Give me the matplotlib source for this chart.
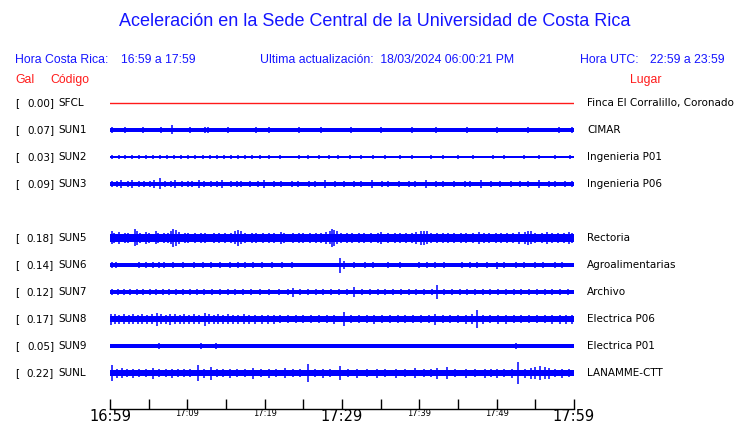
import matplotlib
matplotlib.use("Agg")
import matplotlib.pyplot as plt

# ---------------- data ----------------
gal = [0.00, 0.07, 0.03, 0.09, None, 0.18, 0.14, 0.12, 0.17, 0.05, 0.22]
codes = ["SFCL", "SUN1", "SUN2", "SUN3", None, "SUN5", "SUN6", "SUN7", "SUN8", "SUN9", "SUNL"]
places = ["Finca El Corralillo, Coronado", "CIMAR", "Ingenieria P01", "Ingenieria P06", None,
          "Rectoria", "Agroalimentarias", "Archivo", "Electrica P06", "Electrica P01", "LANAMME-CTT"]
# base band half-width (px)
base = [0.5, 1.6, 0.6, 2.4, None, 4.0, 2.1, 2.1, 3.4, 1.6, 2.6]
# bursts / spikes: (minute after 16:59, half amplitude px)
spikes = [
    [],
    # SUN1
    [(0.3, 2.6), (1.1, 2.2), (1.9, 2.8), (2.8, 2.4), (3.5, 2.2), (4.3, 2.8), (5.0, 2.4), (5.9, 2.2),
     (6.6, 2.6), (7.4, 2.2), (8.0, 4.5), (8.7, 2.4), (9.5, 2.2), (10.4, 2.6), (11.2, 2.2), (12.3, 3.2),
     (12.7, 3.2), (13.5, 2.4), (14.4, 2.2), (15.3, 2.6), (16.1, 2.2), (17.0, 2.4), (18.0, 2.2),
     (18.9, 2.6), (19.7, 2.2), (20.6, 2.8), (21.5, 2.2), (22.6, 2.4), (23.4, 2.2), (24.5, 2.6),
     (25.4, 2.2), (26.3, 2.4), (27.3, 2.8), (28.2, 2.2), (29.2, 2.4), (30.3, 2.2), (31.1, 2.6),
     (32.2, 2.2), (33.1, 2.4), (34.2, 2.2), (35.0, 2.8), (36.1, 2.2), (37.0, 2.4), (38.1, 2.2),
     (39.0, 2.6), (40.1, 2.2), (41.0, 2.4), (42.1, 2.8), (43.0, 2.2), (44.1, 2.4), (45.0, 2.2),
     (46.1, 2.6), (47.0, 2.2), (48.1, 2.4), (49.0, 2.2), (50.1, 2.6), (51.0, 2.2), (52.1, 2.4),
     (53.0, 2.2), (54.1, 2.8), (55.0, 2.2), (56.1, 2.4), (57.0, 2.2), (58.1, 2.6), (59.0, 2.2),
     (59.8, 2.6)],
    # SUN2
    [(0.3, 1.8), (1.2, 1.6), (2.0, 1.8), (2.9, 1.6), (3.8, 1.8), (4.7, 1.6), (5.6, 1.8), (6.5, 1.6),
     (7.4, 1.8), (8.3, 1.6), (9.2, 1.8), (10.1, 1.6), (11.0, 1.8), (12.0, 2.0), (12.9, 1.6),
     (13.8, 1.8), (14.7, 1.6), (15.6, 1.8), (16.6, 1.6), (17.5, 1.8), (18.4, 1.6), (19.4, 1.8),
     (20.5, 1.6), (22.0, 1.8), (24.5, 1.6), (25.6, 1.8), (27.0, 1.6), (28.3, 1.8), (29.5, 1.6),
     (31.0, 1.8), (32.5, 1.6), (34.0, 1.8), (35.5, 1.6), (37.5, 1.8), (39.0, 1.6), (41.5, 1.8),
     (43.0, 1.6), (45.0, 1.8), (47.0, 1.6), (49.5, 1.8), (51.0, 1.6), (53.5, 1.8), (55.5, 1.6),
     (57.5, 1.8), (59.5, 1.6)],
    # SUN3
    [(0.3, 3.4), (0.9, 3.0), (1.4, 3.6), (2.3, 3.2), (2.8, 3.6), (3.7, 3.0), (4.4, 3.4), (5.2, 3.2),
     (5.7, 3.6), (6.5, 5.5), (7.1, 3.4), (7.9, 3.0), (8.4, 3.6), (9.3, 3.2), (10.1, 3.4), (10.6, 3.0),
     (11.5, 3.6), (12.2, 3.2), (13.1, 3.4), (13.9, 3.0), (14.5, 3.6), (15.6, 3.2), (16.4, 3.4),
     (17.0, 3.0), (18.1, 3.4), (19.2, 3.0), (19.9, 3.6), (21.2, 3.2), (22.1, 3.4), (23.5, 3.0),
     (24.3, 3.4), (25.7, 3.2), (26.5, 3.0), (27.8, 3.6), (29.1, 3.2), (30.3, 3.0), (31.6, 3.4),
     (32.4, 3.0), (33.9, 3.6), (35.2, 3.2), (36.0, 3.0), (37.4, 3.4), (38.7, 3.2), (39.5, 3.0),
     (40.9, 3.6), (42.2, 3.2), (43.0, 3.0), (44.5, 3.4), (45.9, 3.2), (46.6, 3.0), (48.0, 3.6),
     (49.3, 3.2), (50.4, 3.0), (51.8, 3.4), (53.0, 3.2), (54.1, 3.0), (55.5, 3.6), (56.8, 3.2),
     (57.6, 3.0), (58.9, 3.4), (59.7, 3.2)],
    [],
    # SUN5
    [(0.2, 6.5), (0.5, 5.0), (1.1, 6.0), (1.9, 5.5), (2.3, 4.8), (3.2, 8.5), (3.5, 7.0), (3.9, 5.5),
     (4.7, 6.0), (5.1, 4.8), (5.9, 6.5), (6.2, 5.0), (7.0, 5.5), (7.5, 4.8), (7.9, 6.5), (8.2, 9.0),
     (8.5, 8.0), (8.9, 6.0), (9.7, 5.5), (10.1, 4.8), (11.0, 5.5), (11.8, 5.0), (12.3, 4.8),
     (13.4, 5.5), (14.1, 4.8), (14.9, 5.2), (15.7, 5.0), (16.2, 6.5), (16.6, 8.0), (17.0, 6.5),
     (17.4, 5.5), (18.3, 5.0), (18.9, 5.5), (19.8, 4.8), (20.5, 5.5), (21.2, 5.0), (22.1, 5.8),
     (22.5, 4.8), (23.6, 5.2), (24.4, 5.0), (25.0, 5.5), (25.9, 4.8), (26.6, 5.5), (27.3, 5.0),
     (27.9, 6.0), (28.4, 6.5), (28.7, 9.0), (29.0, 8.0), (29.4, 6.5), (29.9, 5.0), (30.7, 5.5),
     (31.3, 4.8), (32.2, 5.5), (32.9, 5.0), (33.8, 5.2), (34.6, 5.0), (35.1, 5.8), (36.0, 4.8),
     (36.9, 5.5), (37.5, 5.0), (38.3, 5.2), (39.0, 5.5), (39.6, 6.0), (40.2, 7.0), (40.6, 7.5),
     (41.0, 6.5), (41.5, 5.5), (42.3, 5.0), (43.1, 5.5), (43.7, 4.8), (44.5, 5.2), (45.4, 5.0),
     (46.0, 5.5), (46.9, 5.0), (47.7, 5.8), (48.3, 4.8), (49.0, 5.5), (49.9, 5.0), (50.6, 5.2),
     (51.4, 5.0), (52.1, 5.5), (52.9, 5.8), (53.6, 6.0), (54.0, 7.0), (54.4, 6.5), (55.0, 5.5),
     (55.8, 5.0), (56.5, 5.8), (57.2, 5.0), (57.9, 5.5), (58.7, 5.2), (59.3, 5.8), (59.8, 5.0)],
    # SUN6
    [(0.2, 3.0), (0.8, 3.0), (3.8, 3.0), (4.6, 3.2), (5.5, 3.0), (6.3, 3.0), (7.0, 3.2), (8.2, 3.0),
     (9.5, 3.0), (10.8, 3.0), (12.0, 3.0), (13.0, 3.2), (14.2, 3.0), (15.5, 3.0), (16.6, 3.0),
     (17.5, 3.0), (18.5, 3.2), (19.6, 3.0), (21.0, 3.0), (22.2, 3.0), (23.5, 3.0), (29.8, 7.5),
     (30.2, 4.0), (31.5, 3.0), (33.0, 3.0), (34.0, 3.0), (36.0, 3.0), (37.5, 3.2), (40.0, 3.0),
     (41.0, 3.0), (42.0, 3.0), (43.2, 3.0), (45.5, 3.2), (46.5, 3.0), (47.5, 3.0), (48.8, 3.0),
     (50.0, 3.5), (51.0, 3.0), (52.5, 3.0), (53.5, 3.0), (55.0, 3.2), (56.0, 3.0), (57.5, 3.0),
     (58.5, 3.0)],
    # SUN7
    [(0.2, 3.0), (1.0, 3.2), (1.8, 3.0), (2.6, 3.4), (3.5, 3.0), (4.3, 3.2), (5.2, 3.0), (6.0, 3.4),
     (6.8, 3.0), (7.6, 3.2), (8.5, 3.4), (9.4, 3.0), (10.3, 3.2), (11.2, 3.0), (12.2, 3.2),
     (13.2, 3.0), (14.2, 3.4), (15.2, 3.0), (16.2, 3.2), (17.2, 3.0), (18.2, 3.2), (19.4, 3.0),
     (20.6, 3.2), (21.8, 3.4), (23.0, 3.4), (23.7, 4.5), (24.6, 3.2), (25.6, 3.0), (26.6, 3.2),
     (27.6, 3.0), (28.6, 3.2), (29.6, 3.4), (30.6, 3.0), (31.5, 5.0), (32.6, 3.2), (33.6, 3.0),
     (34.6, 3.2), (35.6, 3.0), (36.6, 3.2), (37.6, 3.0), (38.6, 3.4), (39.6, 3.2), (40.6, 3.0),
     (41.6, 3.2), (42.3, 7.0), (43.2, 3.2), (44.2, 3.0), (45.2, 3.2), (46.2, 3.4), (47.2, 3.0),
     (48.2, 3.2), (49.2, 3.0), (50.2, 3.2), (51.2, 3.4), (52.2, 3.0), (53.2, 3.2), (54.2, 3.0),
     (55.2, 3.2), (56.2, 3.0), (57.2, 3.4), (58.2, 3.0), (59.2, 3.2)],
    # SUN8
    [(0.1, 5.5), (0.6, 5.0), (1.2, 4.5), (1.8, 5.0), (2.4, 4.5), (3.0, 5.0), (3.6, 4.5), (4.2, 5.0),
     (4.8, 4.5), (5.4, 5.0), (6.1, 6.5), (6.6, 5.0), (7.2, 4.5), (7.8, 5.5), (8.4, 5.0), (9.0, 4.5),
     (9.6, 5.0), (10.2, 4.5), (10.8, 5.0), (11.5, 4.5), (12.3, 6.5), (12.8, 5.0), (13.4, 4.5),
     (14.0, 5.0), (14.6, 4.5), (15.2, 5.0), (15.9, 4.5), (16.6, 4.5), (17.3, 5.0), (18.0, 4.5),
     (18.8, 4.5), (19.6, 4.5), (20.4, 4.5), (21.2, 4.5), (22.0, 4.0), (23.0, 4.2), (24.0, 4.0),
     (25.0, 4.2), (26.0, 4.0), (27.0, 4.2), (28.0, 4.0), (29.0, 4.5), (30.2, 7.0), (31.2, 4.0),
     (32.2, 4.2), (33.2, 4.0), (34.2, 4.5), (35.2, 4.0), (36.2, 4.2), (37.2, 4.0), (38.2, 4.2),
     (39.2, 4.0), (40.2, 4.2), (41.2, 4.0), (42.0, 5.5), (43.0, 4.2), (44.0, 4.0), (45.0, 4.2),
     (46.0, 4.5), (46.8, 5.0), (47.5, 9.0), (48.2, 4.5), (49.2, 4.0), (50.2, 4.5), (51.2, 4.5),
     (52.2, 4.0), (53.2, 4.2), (54.2, 4.0), (55.2, 4.2), (56.2, 4.0), (57.2, 4.5), (58.2, 4.5),
     (59.0, 4.5), (59.7, 4.5)],
    # SUN9
    [(1.0, 2.2), (2.5, 2.2), (4.0, 2.2), (6.3, 3.2), (8.0, 2.2), (10.0, 2.2), (11.8, 2.6), (13.7, 2.6),
     (15.5, 2.2), (17.5, 2.2), (19.0, 2.2), (21.0, 2.2), (23.0, 2.2), (25.0, 2.2), (27.0, 2.2),
     (29.0, 2.2), (31.0, 2.2), (33.0, 2.2), (35.0, 2.2), (37.0, 2.2), (38.5, 2.2), (40.5, 2.2),
     (42.5, 2.2), (45.0, 2.2), (47.0, 2.2), (49.0, 2.2), (51.0, 2.2), (52.5, 2.6), (54.5, 2.2),
     (56.5, 2.2), (58.5, 2.2)],
    # SUNL
    [(0.3, 8.0), (0.9, 4.5), (1.5, 5.0), (2.2, 4.0), (3.0, 4.5), (3.8, 4.0), (4.6, 4.0), (5.6, 5.5),
     (6.4, 4.0), (7.2, 4.0), (8.0, 4.5), (8.8, 4.0), (9.6, 4.0), (10.4, 4.0), (11.4, 8.0), (12.2, 4.5),
     (13.0, 6.5), (13.8, 4.0), (14.6, 4.0), (15.5, 4.5), (16.4, 4.0), (17.4, 4.0), (18.5, 5.5),
     (19.5, 4.0), (20.5, 4.5), (21.5, 4.0), (22.6, 5.0), (23.6, 4.0), (24.6, 4.0), (25.6, 9.0),
     (26.5, 4.0), (27.5, 4.5), (28.5, 4.0), (29.8, 7.0), (30.8, 4.0), (32.0, 4.5), (33.2, 4.0),
     (34.5, 4.5), (35.6, 4.0), (37.0, 4.5), (38.2, 4.0), (39.5, 5.0), (40.6, 4.0), (41.5, 4.0),
     (42.3, 5.5), (43.6, 6.0), (44.6, 4.0), (46.0, 4.5), (47.2, 4.0), (48.5, 4.5), (49.3, 4.0),
     (50.0, 4.5), (51.0, 4.0), (52.0, 4.5), (52.7, 11.0), (53.6, 4.5), (54.5, 5.5), (55.0, 6.0),
     (55.6, 7.0), (56.2, 6.0), (56.8, 5.5), (57.6, 4.0), (58.5, 4.5), (59.3, 4.0)],
]
tick_minutes = [0, 5, 10, 15, 20, 25, 30, 35, 40, 45, 50, 55, 60]
tick_labels = ["16:59", "", "17:09", "", "17:19", "", "17:29", "", "17:39", "", "17:49", "", "17:59"]
big_labels = ["16:59", "17:29", "17:59"]

# ---------------- figure ----------------
W, H = 740, 423
fig = plt.figure(figsize=(W / 100, H / 100), dpi=100)
fig.patch.set_facecolor("white")

blue = "#1515ff"
red = "#ff1a1a"
sans = ["Liberation Sans", "DejaVu Sans"]

def fx(px):
    return px / W

def fy(py):
    return 1 - py / H

fig.text(fx(375), fy(22), "Aceleración en la Sede Central de la Universidad de Costa Rica",
         ha="center", va="center", color=blue, fontsize=13, family=sans)
hdr = 8.8
fig.text(fx(15), fy(60), "Hora Costa Rica:", ha="left", va="center", color=blue, fontsize=hdr, family=sans)
fig.text(fx(121), fy(60), "16:59 a 17:59", ha="left", va="center", color=blue, fontsize=hdr, family=sans)
fig.text(fx(260), fy(60), "Ultima actualización:  18/03/2024 06:00:21 PM", ha="left", va="center",
         color=blue, fontsize=hdr, family=sans)
fig.text(fx(580), fy(60), "Hora UTC:", ha="left", va="center", color=blue, fontsize=hdr, family=sans)
fig.text(fx(650), fy(60), "22:59 a 23:59", ha="left", va="center", color=blue, fontsize=hdr, family=sans)
fig.text(fx(15), fy(80), "Gal", ha="left", va="center", color=red, fontsize=hdr, family=sans)
fig.text(fx(50), fy(80), "Código", ha="left", va="center", color=red, fontsize=hdr, family=sans)
fig.text(fx(630), fy(80), "Lugar", ha="left", va="center", color=red, fontsize=hdr, family=sans)

# trace axes: rows 0..10, 27 px apart, first at y=103
row_px = 27.0
top_px = 103 - row_px / 2
bot_px = 373 + row_px / 2
ax = fig.add_axes([fx(110), fy(bot_px), fx(574) - fx(110), (bot_px - top_px) / H])
ax.set_xlim(0, 60)
ax.set_ylim(10.5, -0.5)
ax.axis("off")

for i, code in enumerate(codes):
    if code is None:
        continue
    yy = fy(103 + i * row_px)
    fig.text(fx(15), yy, "[", ha="left", va="center", fontsize=7.5, color="black")
    fig.text(fx(54), yy, f"{gal[i]:.2f}]", ha="right", va="center", fontsize=7.5, color="black")
    fig.text(fx(58), yy, code, ha="left", va="center", fontsize=7.5, color="black")
    fig.text(fx(587), yy, places[i], ha="left", va="center", fontsize=7.5, color="black")
    if i == 0:
        ax.plot([0, 60], [i, i], color=red, lw=1.0)
        continue
    b = base[i] / row_px
    ax.fill_between([0, 60], [i - b, i - b], [i + b, i + b], color="blue", lw=0)
    for m, a in spikes[i]:
        ax.vlines(m, i - a / row_px, i + a / row_px, color="blue", lw=1.1)

# time axis
tax = fig.add_axes([fx(110), fy(409), fx(574) - fx(110), 0.05])
tax.set_xlim(0, 60)
tax.set_ylim(0, 1)
for s in ["top", "left", "right"]:
    tax.spines[s].set_visible(False)
tax.spines["bottom"].set_linewidth(1.0)
tax.set_yticks([])
tax.set_xticks(tick_minutes)
tax.set_xticklabels(tick_labels)
tax.tick_params(axis="x", direction="in", length=7, width=1.0, pad=0)
tax.patch.set_alpha(0)
for lab in tax.get_xticklabels():
    if lab.get_text() in big_labels:
        lab.set_fontsize(10.5)
    else:
        lab.set_fontsize(6)

fig.savefig("out.png", dpi=100)
